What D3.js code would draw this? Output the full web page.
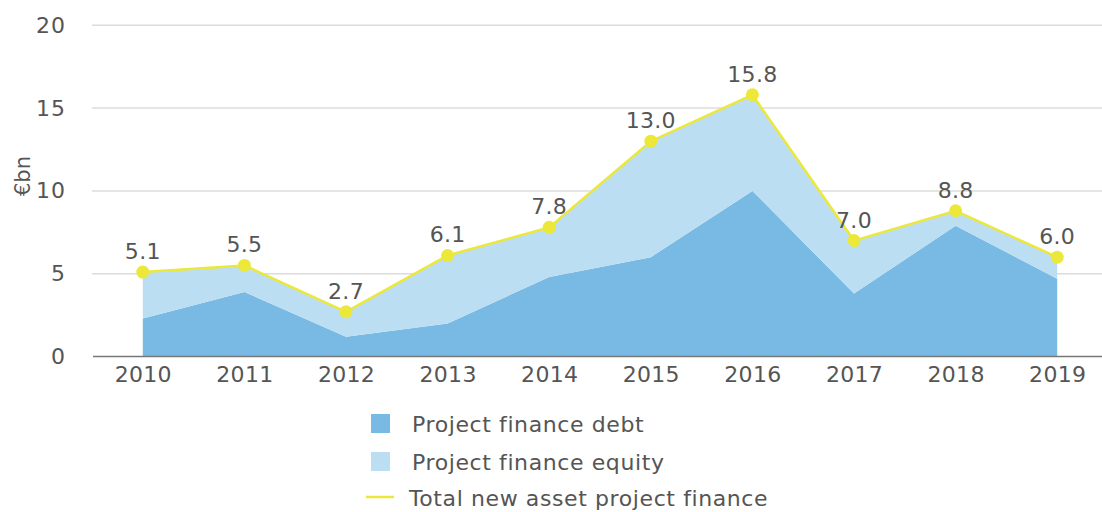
<!DOCTYPE html>
<html>
<head>
<meta charset="utf-8">
<script src="https://cdn.jsdelivr.net/npm/d3@7"></script>
<style>
  body { margin: 0; background: #fff; }
  svg text { font-family: "DejaVu Sans", sans-serif; fill: #555; }
</style>
</head>
<body>
<svg id="chart" width="1102" height="512"></svg>
<script>
// data
const years = ['2010', '2011', '2012', '2013', '2014', '2015', '2016', '2017', '2018', '2019'];
const debt = [2.3, 3.9, 1.2, 2.0, 4.8, 6.0, 10.0, 3.8, 7.9, 4.7];
const equity = [2.8, 1.6, 1.5, 4.1, 3.0, 7.0, 5.8, 3.2, 0.9, 1.3];
const total = [5.1, 5.5, 2.7, 6.1, 7.8, 13.0, 15.8, 7.0, 8.8, 6.0];
const yTicks = [0, 5, 10, 15, 20];
const legendItems = ['Project finance debt', 'Project finance equity', 'Total new asset project finance'];

const colDebt = '#78bae4';
const colEquity = '#bcdef2';
const colTotal = '#ece83a';

const svg = d3.select('#chart');

const x = d3.scalePoint().domain(years).range([92, 1108]).padding(0.5);
const y = d3.scaleLinear().domain([0, 20]).range([356.5, 25.3]);

// y ticks + grid
const yAxis = d3.axisLeft(y).tickValues(yTicks).tickSize(0).tickPadding(26);
svg.append('g')
    .attr('transform', 'translate(92,0)')
    .call(yAxis)
    .call(g => g.select('.domain').remove())
    .call(g => g.selectAll('text')
        .style('font-size', '22px')
        .style('letter-spacing', '1px')
        .attr('fill', '#555'));

svg.append('g')
    .selectAll('line')
    .data(yTicks.filter(d => d > 0))
    .join('line')
    .attr('x1', 92)
    .attr('x2', 1102)
    .attr('y1', d => y(d))
    .attr('y2', d => y(d))
    .attr('stroke', '#dcdcdc')
    .attr('stroke-width', 1.5);

// stacked areas
const rows = years.map((yr, i) => ({ year: yr, debt: debt[i], equity: equity[i] }));
const series = d3.stack().keys(['debt', 'equity'])(rows);
const area = d3.area()
    .x(d => x(d.data.year))
    .y0(d => y(d[0]))
    .y1(d => y(d[1]));

svg.append('g')
    .selectAll('path')
    .data(series)
    .join('path')
    .attr('fill', (d, i) => i === 0 ? colDebt : colEquity)
    .attr('d', area);

// x axis
const xAxis = d3.axisBottom(x).tickSize(0).tickPadding(10);
svg.append('g')
    .attr('transform', `translate(0,${y(0)})`)
    .call(xAxis)
    .call(g => g.select('.domain').remove())
    .call(g => g.selectAll('text')
        .style('font-size', '22px')
        .style('letter-spacing', '0.3px')
        .attr('fill', '#555'));

svg.append('line')
    .attr('x1', 93)
    .attr('x2', 1102)
    .attr('y1', y(0))
    .attr('y2', y(0))
    .attr('stroke', '#777')
    .attr('stroke-width', 1.5);

// total line
const line = d3.line()
    .x((d, i) => x(years[i]))
    .y(d => y(d));

svg.append('path')
    .datum(total)
    .attr('fill', 'none')
    .attr('stroke', colTotal)
    .attr('stroke-width', 2.5)
    .attr('d', line);

svg.append('g')
    .selectAll('circle')
    .data(total)
    .join('circle')
    .attr('cx', (d, i) => x(years[i]))
    .attr('cy', d => y(d))
    .attr('r', 6.5)
    .attr('fill', colTotal);

svg.append('g')
    .selectAll('text')
    .data(total)
    .join('text')
    .attr('x', (d, i) => x(years[i]))
    .attr('y', d => y(d) - 13)
    .attr('text-anchor', 'middle')
    .style('font-size', '22px')
    .style('letter-spacing', '0.3px')
    .text(d => d.toFixed(1));

// y label
svg.append('text')
    .attr('transform', 'translate(30,176) rotate(-90)')
    .attr('text-anchor', 'middle')
    .style('font-size', '21px')
    .text('€bn');

// legend
const legend = svg.append('g');
legend.append('rect').attr('x', 371).attr('y', 414).attr('width', 19).attr('height', 19).attr('fill', colDebt);
legend.append('rect').attr('x', 371).attr('y', 452).attr('width', 19).attr('height', 19).attr('fill', colEquity);
legend.append('line').attr('x1', 366).attr('x2', 394).attr('y1', 497).attr('y2', 497)
    .attr('stroke', colTotal).attr('stroke-width', 2.5);
legend.selectAll('text.leg')
    .data(legendItems)
    .join('text')
    .attr('class', 'leg')
    .attr('x', (d, i) => i === 2 ? 409 : 412)
    .attr('y', (d, i) => [432, 470, 506][i])
    .style('font-size', '22px')
    .style('letter-spacing', '0.6px')
    .text(d => d);
</script>
</body>
</html>
